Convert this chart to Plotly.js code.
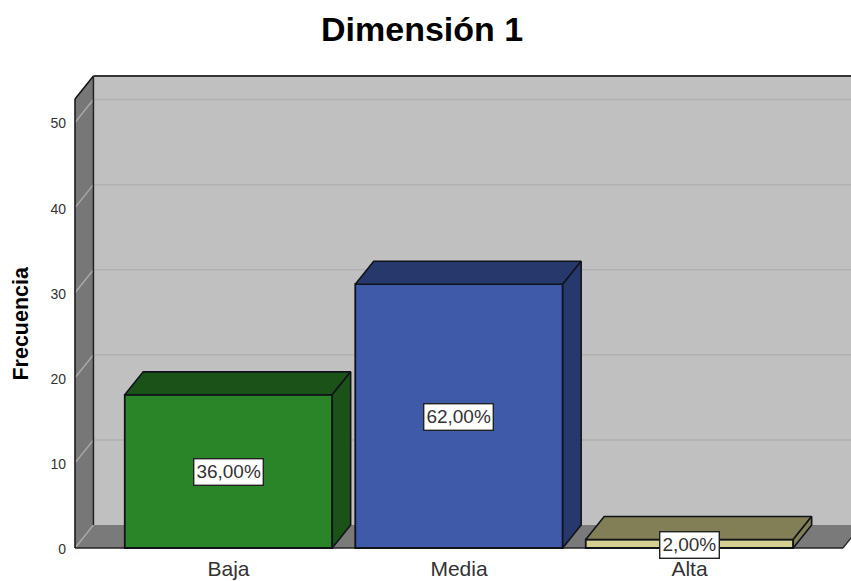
<!DOCTYPE html>
<html>
<head>
<meta charset="utf-8">
<script src="https://cdn.plot.ly/plotly-3.0.1.min.js"></script>
<style>html,body{margin:0;padding:0;background:#fff;overflow:hidden}</style>
</head>
<body>
<div id="chart" style="width:851px;height:581px"></div>
<script>
const categories = ["Baja", "Media", "Alta"];
const frequencies = [18, 31, 1];
const percentages = [36, 62, 2];
const yTicks = [0, 10, 20, 30, 40, 50];
const frontColors = ["#2a8428", "#3e5aa8", "#d4cf90"];
const shadeColors = ["#1a5218", "#26386c", "#827e55"];

// Oblique projection of the box, in axis units
const depthX = 0.08, depthY = 2.70;
const barWidth = 0.9;
const floorLeft = -0.666, floorRight = 2.666, wallTop = 52.76;
const positions = categories.map((_, i) => i);
const fontFamily = "Liberation Sans, Arial, sans-serif";

function polygon(points, fill) {
  const path = "M" + points.map(p => p[0] + "," + p[1]).join("L") + "Z";
  return {type: "path", path, xref: "x", yref: "y", layer: "below",
          fillcolor: fill, line: {color: fill, width: 0}};
}
function segment(x0, y0, x1, y1, color, width) {
  return {type: "line", x0, y0, x1, y1, xref: "x", yref: "y", layer: "below",
          line: {color, width}};
}

// Walls, floor and the gridlines that wrap around them
const shapes = [
  polygon([[floorLeft + depthX, depthY], [floorRight + 0.5, depthY], [floorRight + 0.5, wallTop + depthY], [floorLeft + depthX, wallTop + depthY]], "#c0c0c0"),
  polygon([[floorLeft, 0], [floorLeft + depthX, depthY], [floorLeft + depthX, wallTop + depthY], [floorLeft, wallTop]], "#777777"),
  polygon([[floorLeft, 0], [floorRight, 0], [floorRight + depthX, depthY], [floorLeft + depthX, depthY]], "#7a7a7a")
];
yTicks.forEach(v => {
  if (v > 0) shapes.push(segment(floorLeft + depthX, v + depthY, floorRight + 0.5, v + depthY, "#b1b1b1", 1.5));
  shapes.push(segment(floorLeft, v, floorLeft + depthX, v + depthY, "#a8a8a8", 1.5));
});
shapes.push(
  segment(floorLeft, 0, floorLeft, wallTop, "#111", 1.5),
  segment(floorLeft, wallTop, floorLeft + depthX, wallTop + depthY, "#111", 1.5),
  segment(floorLeft + depthX, depthY, floorLeft + depthX, wallTop + depthY, "#222", 1.5),
  segment(floorLeft + depthX, wallTop + depthY, floorRight + 0.5, wallTop + depthY, "#333", 2),
  segment(floorLeft, 0, floorRight, 0, "#222", 1.5),
  segment(floorRight, 0, floorRight + depthX, depthY, "#222", 1.2)
);

const traces = [{
  type: "bar", x: positions, y: frequencies, width: barWidth,
  marker: {color: frontColors, line: {color: "#10141a", width: 1.8}},
  hoverinfo: "skip", showlegend: false
}];

// Top and right faces of each bar
positions.forEach((c, i) => {
  const l = c - barWidth / 2, r = c + barWidth / 2, v = frequencies[i];
  const faces = [
    [[l, r, r + depthX, l + depthX, l], [v, v, v + depthY, v + depthY, v]],
    [[r, r + depthX, r + depthX, r, r], [0, depthY, v + depthY, v, 0]]
  ];
  faces.forEach(f => traces.push({
    type: "scatter", mode: "lines", x: f[0], y: f[1], fill: "toself",
    fillcolor: shadeColors[i], line: {color: "#10141a", width: 1.6},
    cliponaxis: false, hoverinfo: "skip", showlegend: false
  }));
});

const annotations = positions.map((c, i) => ({
  x: c, y: frequencies[i] / 2, xref: "x", yref: "y", yshift: -1, showarrow: false,
  text: percentages[i].toFixed(2).replace(".", ",") + "%",
  font: {family: fontFamily, size: 19, color: "#333"},
  bgcolor: "#ffffff", bordercolor: "#222", borderwidth: 1.4, borderpad: 2
}));

// Value-axis caption, placed in the left margin
annotations.push({
  text: "<b>Frecuencia</b>", textangle: -90, showarrow: false,
  xref: "paper", yref: "paper", x: -0.0627, y: 0.474, xanchor: "center", yanchor: "middle",
  font: {family: fontFamily, size: 21.5, color: "#000"}
});

Plotly.newPlot("chart", traces, {
  width: 851, height: 581,
  margin: {l: 70, r: 0, t: 70, b: 29, pad: 0},
  paper_bgcolor: "#ffffff", plot_bgcolor: "#ffffff",
  title: {text: "<b>Dimensión 1</b>", x: 0.496, xanchor: "center", y: 0.95, yanchor: "middle",
          font: {family: fontFamily, size: 34, color: "#000"}},
  showlegend: false,
  bargap: 0,
  xaxis: {
    range: [-0.6876, 2.7007], tickmode: "array", tickvals: positions, ticktext: categories,
    showgrid: false, zeroline: false, showline: false, ticks: "",
    ticklabelstandoff: 2,
    tickfont: {family: fontFamily, size: 21, color: "#333"}
  },
  yaxis: {
    range: [-0.47, 56.17], tickmode: "array", tickvals: yTicks,
    showgrid: false, zeroline: false, showline: false, ticks: "",
    ticklabelstandoff: 3, ticklabelshift: 1,
    tickfont: {family: fontFamily, size: 14, color: "#333"}
  },
  shapes, annotations
}, {displayModeBar: false, staticPlot: true});
</script>
</body>
</html>
